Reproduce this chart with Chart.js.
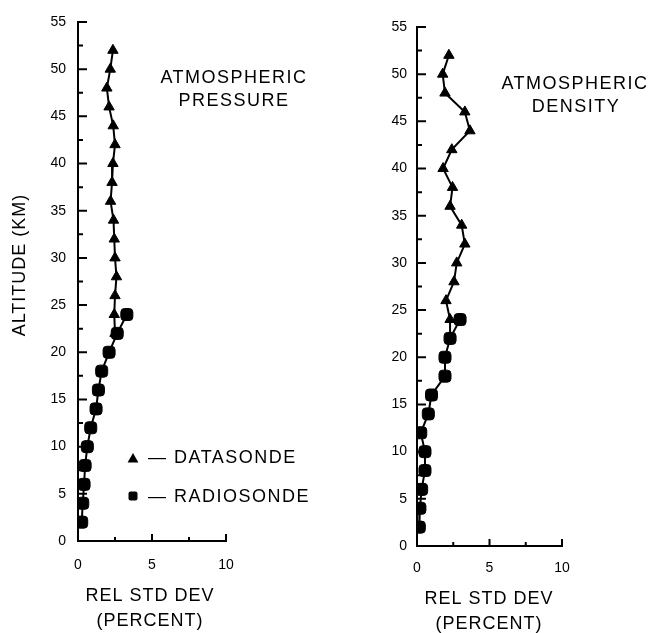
<!DOCTYPE html>
<html>
<head>
<meta charset="utf-8">
<script src="https://cdn.jsdelivr.net/npm/chart.js@4.4.0/dist/chart.umd.min.js"></script>
<style>
  html, body { margin: 0; padding: 0; background: #fff; }
  #wrap { position: relative; width: 655px; height: 633px; }
  canvas { position: absolute; top: 0; }
  #pressureChart { left: 0; }
  #densityChart { left: 330px; }
</style>
</head>
<body>
<div id="wrap">
  <canvas id="pressureChart" width="330" height="633"></canvas>
  <canvas id="densityChart" width="325" height="633"></canvas>
</div>
<script>
// tick labels
const altitudeTicks = [0, 5, 10, 15, 20, 25, 30, 35, 40, 45, 50, 55];
const devTicks = [0, 5, 10];

// atmospheric pressure - datasonde (triangles)
const pressureDataAlt = [52, 50, 48, 46, 44, 42, 40, 38, 36, 34, 32, 30, 28, 26, 24, 22];
const pressureDataDev = [2.36, 2.18, 1.95, 2.1, 2.38, 2.5, 2.36, 2.3, 2.2, 2.4, 2.45, 2.5, 2.6, 2.5, 2.45, 2.5];
// atmospheric pressure - radiosonde (squares)
const pressureRadioAlt = [24, 22, 20, 18, 16, 14, 12, 10, 8, 6, 4, 2];
const pressureRadioDev = [3.3, 2.65, 2.1, 1.6, 1.38, 1.22, 0.86, 0.63, 0.48, 0.41, 0.32, 0.25];

// atmospheric density - datasonde
const densityDataAlt = [52, 50, 48, 46, 44, 42, 40, 38, 36, 34, 32, 30, 28, 26, 24, 22];
const densityDataDev = [2.2, 1.77, 1.93, 3.3, 3.65, 2.4, 1.8, 2.45, 2.28, 3.08, 3.3, 2.74, 2.55, 2.0, 2.28, 2.28];
// atmospheric density - radiosonde
const densityRadioAlt = [24, 22, 20, 18, 16, 14, 12, 10, 8, 6, 4, 2];
const densityRadioDev = [2.97, 2.28, 1.93, 1.93, 1.0, 0.78, 0.26, 0.55, 0.55, 0.32, 0.2, 0.16];

const FONT = '"Liberation Sans", Arial, Helvetica, sans-serif';

function toPoints(devs, alts) {
  return devs.map((d, i) => ({ x: d, y: alts[i] }));
}

function drawTri(ctx, x, y, r) {
  ctx.beginPath();
  ctx.moveTo(x, y - r);
  ctx.lineTo(x + r * 0.9, y + r * 0.6);
  ctx.lineTo(x - r * 0.9, y + r * 0.6);
  ctx.closePath();
  ctx.fill();
}

// inward tick marks like the original plot
const inwardTicks = {
  id: 'inwardTicks',
  afterDraw(chart) {
    const { ctx, scales: { x, y }, chartArea: a } = chart;
    ctx.save();
    ctx.strokeStyle = '#000';
    ctx.lineWidth = 2;
    ctx.beginPath();
    for (let v = 0; v <= 55; v += 2.5) {
      const py = y.getPixelForValue(v);
      const len = v % 5 === 0 ? 9 : 5;
      ctx.moveTo(a.left, py);
      ctx.lineTo(a.left + len, py);
    }
    for (let v = 2.5; v <= 10; v += 2.5) {
      const px = x.getPixelForValue(v);
      const len = v % 5 === 0 ? 7 : 4;
      ctx.moveTo(px, a.bottom);
      ctx.lineTo(px, a.bottom - len);
    }
    ctx.stroke();
    ctx.restore();
  }
};

// free text, axis titles and the hand-made legend
const panelText = {
  id: 'panelText',
  afterDraw(chart, args, opts) {
    const ctx = chart.ctx;
    ctx.save();
    ctx.fillStyle = '#000';
    (opts.items || []).forEach(t => {
      ctx.save();
      ctx.font = (t.size || 18) + 'px ' + FONT;
      ctx.letterSpacing = (t.spacing || 0) + 'px';
      ctx.textAlign = t.align || 'center';
      ctx.textBaseline = 'middle';
      ctx.translate(t.x, t.y);
      if (t.rotate) ctx.rotate(t.rotate);
      ctx.fillText(t.text, 0, 0);
      ctx.restore();
    });
    (opts.markers || []).forEach(m => {
      if (m.shape === 'triangle') {
        drawTri(ctx, m.x, m.y, 6);
      } else {
        ctx.beginPath();
        ctx.roundRect(m.x - 4.5, m.y - 4.5, 9, 9, 2);
        ctx.fill();
      }
    });
    ctx.restore();
  }
};

function makeChart(id, dataDev, dataAlt, radioDev, radioAlt, box, texts, markers) {
  const ctx = document.getElementById(id).getContext('2d');
  return new Chart(ctx, {
    type: 'line',
    data: {
      datasets: [{
        label: 'DATASONDE',
        data: toPoints(dataDev, dataAlt),
        borderColor: '#000',
        backgroundColor: '#000',
        borderWidth: 2,
        pointStyle: 'triangle',
        pointRadius: 6,
        pointBorderWidth: 1,
        tension: 0
      }, {
        label: 'RADIOSONDE',
        data: toPoints(radioDev, radioAlt),
        borderColor: '#000',
        backgroundColor: '#000',
        borderWidth: 2,
        pointStyle: 'rectRounded',
        pointRadius: 7,
        pointBorderWidth: 1,
        tension: 0
      }]
    },
    options: {
      responsive: false,
      animation: false,
      layout: { padding: { top: box.top, right: box.right, left: 0, bottom: 0 } },
      plugins: {
        legend: { display: false },
        tooltip: { enabled: false },
        panelText: { items: texts, markers: markers }
      },
      scales: {
        x: {
          type: 'linear',
          min: 0,
          max: 10,
          afterBuildTicks: s => { s.ticks = devTicks.map(v => ({ value: v })); },
          afterFit: s => { s.height = box.xh; },
          grid: { display: false, drawTicks: false },
          border: { display: true, color: '#000', width: 2 },
          ticks: { color: '#000', font: { size: 14, family: FONT }, padding: box.xpad, maxRotation: 0, autoSkip: false }
        },
        y: {
          type: 'linear',
          min: 0,
          max: 55,
          afterBuildTicks: s => { s.ticks = altitudeTicks.map(v => ({ value: v })); },
          afterFit: s => { s.width = box.yw; },
          grid: { display: false, drawTicks: false },
          border: { display: true, color: '#000', width: 2 },
          ticks: { color: '#000', font: { size: 14, family: FONT }, padding: box.ypad, autoSkip: false }
        }
      }
    },
    plugins: [inwardTicks, panelText]
  });
}

makeChart('pressureChart', pressureDataDev, pressureDataAlt, pressureRadioDev, pressureRadioAlt,
  { top: 22, right: 104, xh: 92, yw: 78, xpad: 16, ypad: 12 },
  [
    { text: 'ATMOSPHERIC', x: 234, y: 78, size: 18, spacing: 1.5 },
    { text: 'PRESSURE', x: 234, y: 101, size: 18, spacing: 1.5 },
    { text: 'ALTITUDE (KM)', x: 20, y: 265, size: 18, spacing: 1, rotate: -Math.PI / 2 },
    { text: 'REL STD DEV', x: 150, y: 596, size: 18, spacing: 1 },
    { text: '(PERCENT)', x: 150, y: 621, size: 18, spacing: 1 },
    { text: '\u2014 DATASONDE', x: 148, y: 458, size: 18, spacing: 1.5, align: 'left' },
    { text: '\u2014 RADIOSONDE', x: 148, y: 497, size: 18, spacing: 1.5, align: 'left' }
  ],
  [{ shape: 'triangle', x: 133, y: 459 }, { shape: 'square', x: 133, y: 496 }]
);

makeChart('densityChart', densityDataDev, densityDataAlt, densityRadioDev, densityRadioAlt,
  { top: 27, right: 93, xh: 87, yw: 87, xpad: 14, ypad: 10 },
  [
    { text: 'ATMOSPHERIC', x: 245, y: 84, size: 18, spacing: 1.5 },
    { text: 'DENSITY', x: 246, y: 107, size: 18, spacing: 1.5 },
    { text: 'REL STD DEV', x: 159, y: 599, size: 18, spacing: 1 },
    { text: '(PERCENT)', x: 159, y: 624, size: 18, spacing: 1 }
  ],
  []
);
</script>
</body>
</html>
